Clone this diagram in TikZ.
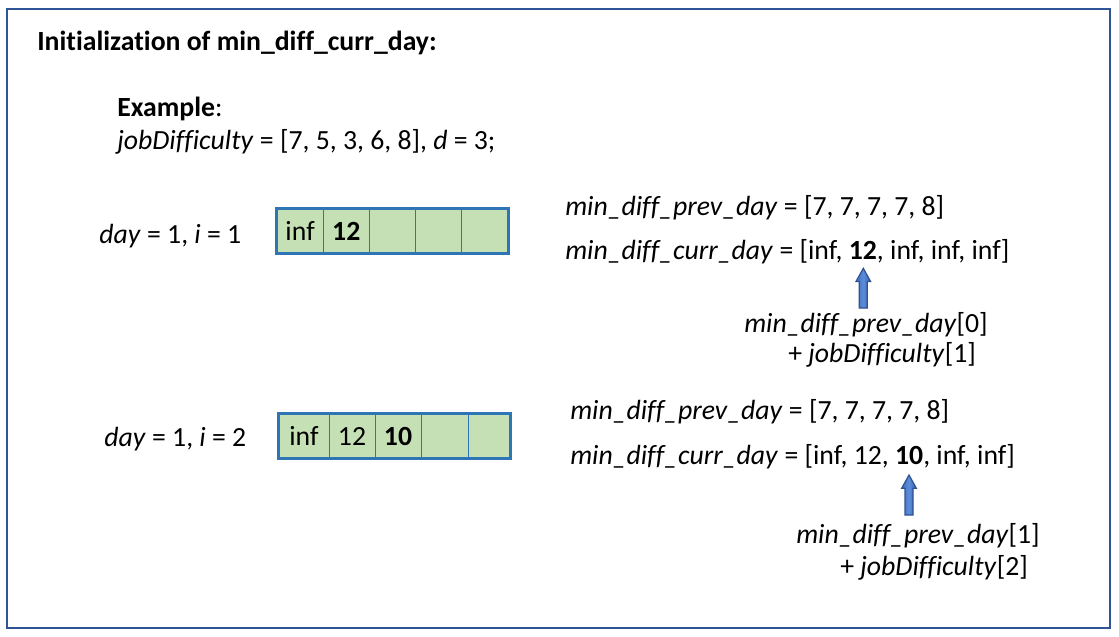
\documentclass[tikz,border=0pt]{standalone}
\usepackage{fontspec}
\setmainfont{Carlito}[Ligatures=NoCommon]
\begin{document}
\begin{tikzpicture}[x=0.75pt,y=-0.75pt,
  txt/.style={anchor=base west,inner sep=0pt,font=\fontsize{20.8pt}{25pt}\selectfont},
  cell/.style={draw=cellline,fill=cellfill,line width=0.75pt,minimum height=33pt,inner sep=0pt,font=\fontsize{20.8pt}{25pt}\selectfont},
  boxframe/.style={draw=cellline,line width=1.6pt},
  blockarrow/.style={draw=arrline,line width=0.9pt,left color=arrlight,right color=arrdark,middle color=arrmid}]
\definecolor{frame}{HTML}{2F5597}
\definecolor{cellline}{HTML}{2E75B6}
\definecolor{cellfill}{HTML}{C5E0B4}
\definecolor{arrline}{HTML}{2F528F}
\definecolor{arrlight}{HTML}{4472C4}
\definecolor{arrmid}{HTML}{5B8BD9}
\definecolor{arrdark}{HTML}{3A64B0}
\useasboundingbox (0,0) rectangle (1119,636);
\fill[white] (0,0) rectangle (1119,636);
\draw[frame,line width=1.5pt] (7,9) rectangle (1110,628);

\node[txt,font=\fontsize{20.8pt}{25pt}\selectfont\bfseries] (title) at (37,50) {Initialization of min\_diff\_curr\_day:};
\node[txt] (ex) at (117,116) {\textbf{Example}:};
\node[txt] (jd) at (117,149) {\textit{jobDifficulty} = [7, 5, 3, 6, 8], \textit{d} = 3;};

% ---- day 1, i = 1
\node[txt] (lab1) at (99,243) {\textit{day} = 1, \textit{i} = 1};
\node[cell,minimum width=34.65pt] (a1) at (300.1,231) {inf};
\node[cell,minimum width=34.65pt] (a2) at (346.3,231) {\textbf{12}};
\node[cell,minimum width=34.65pt] (a3) at (392.5,231) {};
\node[cell,minimum width=34.65pt] (a4) at (438.7,231) {};
\node[cell,minimum width=34.65pt] (a5) at (484.9,231) {};
\draw[boxframe] (a1.north west) rectangle (a5.south east);

\node[txt] (prev1) at (565,215) {\textit{min\_diff\_prev\_day} = [7, 7, 7, 7, 8]};
\node[txt] (curr1) at (565,259) {\textit{min\_diff\_curr\_day} = [inf, \textbf{12}, inf, inf, inf]};
\node[txt] (f1a) at (744,332) {\textit{min\_diff\_prev\_day}[0]};
\node[txt] (f1b) at (788,362) {+ \textit{jobDifficulty}[1]};
\draw[blockarrow] (863.3,268.3) -- (870.6,281.5) -- (867.3,281.5) -- (867.3,308) -- (859.3,308) -- (859.3,281.5) -- (856,281.5) -- cycle;

% ---- day 1, i = 2
\node[txt] (lab2) at (104,446) {\textit{day} = 1, \textit{i} = 2};
\node[cell,minimum width=37.5pt] (b1) at (304,436) {inf};
\node[cell,minimum width=34.5pt] (b2) at (352,436) {12};
\node[cell,minimum width=34.5pt] (b3) at (398,436) {\textbf{10}};
\node[cell,minimum width=35.25pt] (b4) at (444.5,436) {};
\node[cell,minimum width=31.5pt] (b5) at (489,436) {};
\draw[boxframe] (b1.north west) rectangle (b5.south east);

\node[txt] (prev2) at (570,419) {\textit{min\_diff\_prev\_day} = [7, 7, 7, 7, 8]};
\node[txt] (curr2) at (570,464) {\textit{min\_diff\_curr\_day} = [inf, 12, \textbf{10}, inf, inf]};
\node[txt] (f2a) at (796,543) {\textit{min\_diff\_prev\_day}[1]};
\node[txt] (f2b) at (840,575) {+ \textit{jobDifficulty}[2]};
\draw[blockarrow] (909,475) -- (916.3,488.2) -- (913,488.2) -- (913,515) -- (905,515) -- (905,488.2) -- (901.7,488.2) -- cycle;
\end{tikzpicture}
\end{document}
